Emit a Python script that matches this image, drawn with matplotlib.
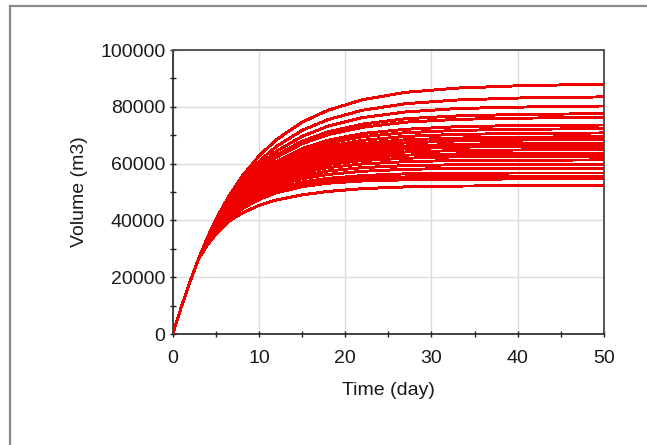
import matplotlib
matplotlib.use('Agg')
import matplotlib.pyplot as plt
from matplotlib.ticker import MultipleLocator
from matplotlib.lines import Line2D

plt.rcParams['font.family'] = ['Liberation Sans', 'DejaVu Sans']

# simulation output times (day)
t_days = [0, 1, 2, 3, 4, 5, 6.5, 8, 10, 12, 15, 18, 22, 27, 33, 40, 50]

# cumulative volume (m3) for each realisation
v01 = [0, 9600, 18400, 26500, 33800, 40300, 48500, 55400, 62700, 68400, 74600, 78800, 82500, 85100, 86600, 87400, 88000]
v02 = [0, 9600, 18400, 26500, 33500, 39700, 47500, 53900, 60800, 66000, 71700, 75500, 78800, 81100, 82400, 83100, 83500]
v03 = [0, 9600, 18400, 26500, 33300, 39200, 46800, 52900, 59400, 64300, 69600, 73200, 76200, 78200, 79400, 79900, 80300]
v04 = [0, 9600, 18400, 26500, 33100, 38900, 46100, 52000, 58200, 62900, 67900, 71200, 73900, 75800, 76800, 77300, 77600]
v05 = [0, 9600, 18400, 26500, 33000, 38700, 45800, 51600, 57600, 62200, 67000, 70200, 72800, 74600, 75600, 76000, 76300]
v06 = [0, 9600, 18400, 26500, 32800, 38300, 45200, 50700, 56400, 60700, 65300, 68200, 70600, 72100, 73000, 73400, 73600]
v07 = [0, 9600, 18400, 26500, 32700, 38100, 44900, 50300, 55900, 60000, 64400, 67200, 69500, 70900, 71700, 72100, 72300]
v08 = [0, 9600, 18400, 26500, 32600, 37900, 44500, 49800, 55200, 59200, 63400, 66100, 68200, 69600, 70300, 70600, 70800]
v09 = [0, 9600, 18400, 26500, 32500, 37700, 44200, 49300, 54600, 58500, 62500, 65100, 67100, 68400, 69000, 69300, 69500]
v10 = [0, 9600, 18400, 26500, 32500, 37600, 43900, 49000, 54100, 57900, 61800, 64200, 66100, 67300, 68000, 68300, 68400]
v11 = [0, 9600, 18400, 26500, 32400, 37400, 43600, 48500, 53500, 57200, 60900, 63300, 65100, 66200, 66800, 67100, 67200]
v12 = [0, 9600, 18400, 26500, 32300, 37200, 43300, 48200, 53000, 56600, 60200, 62400, 64100, 65200, 65800, 66000, 66100]
v13 = [0, 9600, 18400, 26500, 32200, 37100, 43100, 47800, 52500, 55900, 59300, 61500, 63100, 64100, 64600, 64800, 64900]
v14 = [0, 9600, 18400, 26500, 32100, 36900, 42700, 47300, 51900, 55200, 58500, 60500, 62100, 63000, 63400, 63600, 63700]
v15 = [0, 9600, 18400, 26500, 32100, 36800, 42500, 46900, 51400, 54600, 57700, 59700, 61100, 61900, 62400, 62500, 62600]
v16 = [0, 9600, 18400, 26500, 32000, 36600, 42200, 46500, 50800, 53800, 56800, 58600, 59900, 60700, 61100, 61200, 61300]
v17 = [0, 9600, 18400, 26500, 31800, 36300, 41800, 45900, 50000, 52900, 55700, 57400, 58600, 59300, 59600, 59700, 59800]
v18 = [0, 9600, 18400, 26500, 31700, 36100, 41400, 45400, 49300, 52100, 54700, 56200, 57300, 58000, 58300, 58400, 58400]
v19 = [0, 9600, 18400, 26500, 31600, 35900, 40900, 44800, 48500, 51000, 53500, 54800, 55800, 56400, 56600, 56700, 56700]
v20 = [0, 9600, 18400, 26500, 31500, 35700, 40700, 44400, 47900, 50400, 52600, 53900, 54800, 55300, 55500, 55600, 55600]
v21 = [0, 9600, 18400, 26500, 31500, 35600, 40400, 44000, 47400, 49700, 51900, 53100, 53900, 54300, 54500, 54600, 54600]
v22 = [0, 9600, 18400, 26500, 31300, 35200, 39700, 42500, 45300, 47200, 49000, 50200, 51200, 51800, 52100, 52200, 52200]

runs = [v01, v02, v03, v04, v05, v06, v07, v08, v09, v10, v11,
        v12, v13, v14, v15, v16, v17, v18, v19, v20, v21, v22]

fig = plt.figure(figsize=(6.47, 4.45), dpi=100)
ax = fig.add_axes([0.267, 0.2494, 0.6665, 0.6382])

for v in runs:
    ax.plot(t_days, v, color='#ee0000', lw=1.4, antialiased=False, zorder=3)

ax.set_xlim(0, 50)
ax.set_ylim(0, 100000)
ax.xaxis.set_major_locator(MultipleLocator(10))
ax.xaxis.set_minor_locator(MultipleLocator(5))
ax.yaxis.set_major_locator(MultipleLocator(20000))
ax.yaxis.set_minor_locator(MultipleLocator(10000))

ax.grid(True, which='major', color='#dcdcdc', lw=1.0, zorder=0)
ax.set_axisbelow(True)

ax.tick_params(which='both', direction='inout', length=4.5, width=1.0,
               color='#222222', labelsize=14, labelcolor='#1a1a1a')
ax.tick_params(axis='x', which='both', pad=9.6)
ax.tick_params(axis='y', which='both', pad=3.1)

for side in ['left', 'bottom']:
    ax.spines[side].set_color('#222222')
    ax.spines[side].set_linewidth(1.2)
for side in ['right', 'top']:
    ax.spines[side].set_color('#555555')
    ax.spines[side].set_linewidth(1.4)

ax.set_xlabel('Time (day)', fontsize=14, color='#1a1a1a')
ax.set_ylabel('Volume (m3)', fontsize=14, color='#1a1a1a')
ax.xaxis.set_label_coords(0.5, -0.168)
ax.yaxis.set_label_coords(-0.197, 0.5)

# thin frame along the top and left of the panel
fig.add_artist(Line2D([0.0147, 1.0], [0.9854, 0.9854], transform=fig.transFigure,
                      color='#8a8a8a', lw=1.6))
fig.add_artist(Line2D([0.0147, 0.0147], [0.0, 0.9854], transform=fig.transFigure,
                      color='#8a8a8a', lw=1.6))

fig.savefig('out.png', dpi=100)
